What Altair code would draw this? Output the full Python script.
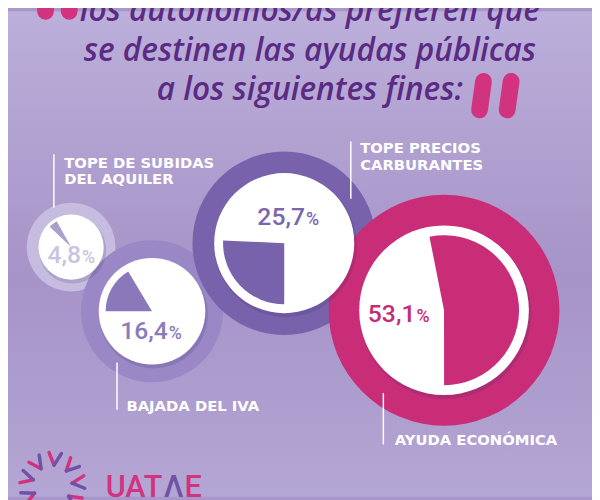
import math
import altair as alt
import pandas as pd

# ---------------- data ----------------
categories = ["TOPE DE SUBIDAS\nDEL AQUILER", "BAJADA DEL IVA",
              "TOPE PRECIOS\nCARBURANTES", "AYUDA ECONÓMICA"]
values = [4.8, 16.4, 25.7, 53.1]
value_text = ["4,8", "16,4", "25,7", "53,1"]
title_lines = ["los autónomos/as prefieren que",
               "se destinen las ayudas públicas",
               "a los siguientes fines:"]
brand_parts = ["UAT", "Λ", "E"]

# ---------------- layout (pixel frame of 600 x 500) ----------------
cx = [72, 154, 288, 450]
cy = [247, 312, 243, 311]
ring_r = [45, 72, 93, 117]
white_r = [33, 54, 71, 86]
wedge_r = [30, 47, 62, 76]
start_deg = [-46.5, -90, 180, -11.2]
ring_col = ["#c6bce0", "#9a88c6", "#7862ab", "#c92d78"]
wedge_col = ["#ab9fcc", "#8a78bb", "#7862ab", "#c92d78"]
num_col = ["#cbc3df", "#8b7bb9", "#7a66ab", "#c42c78"]
num_x = [82, 170, 309, 421]
num_y = [263, 340, 225, 323]
label_x = [65, 128, 365, 400]
label_y = [167, 413, 152, 448]
line_gap = 16.5
lead_x = [54.5, 118.5, 355.5, 388.5]
lead_y1 = [153, 364, 140, 395]
lead_y2 = [207, 412, 198, 447]

xs = alt.Scale(domain=[8, 600], nice=False, zero=False)
ys = alt.Scale(domain=[8, 500], nice=False, zero=False, reverse=True)

def X(f):
    return alt.X(f, type="quantitative", scale=xs, axis=None)

def Y(f):
    return alt.Y(f, type="quantitative", scale=ys, axis=None)

# ---------------- background ----------------
bg = alt.Chart(pd.DataFrame({"a": [0]})).mark_rect(
    fill=alt.LinearGradient(
        gradient="linear", x1=0, x2=0, y1=0, y2=1,
        stops=[alt.GradientStop(offset=0, color="#bcafda"),
               alt.GradientStop(offset=0.55, color="#a693c8"),
               alt.GradientStop(offset=1, color="#b4a6d4")])
).encode(x=alt.value(0), x2=alt.value(592), y=alt.value(0), y2=alt.value(492))

# ---------------- quotes ----------------
quotes = pd.DataFrame({
    "x": [47, 71, 490, 518], "y": [-30, -30, 79, 79],
    "x2": [46, 70, 486, 514], "y2": [8, 8, 108, 108]})
quote_layer = alt.Chart(quotes).mark_rule(
    color="#d2337e", strokeWidth=17, strokeCap="round"
).encode(x=X("x"), y=Y("y"), x2="x2", y2="y2")

# ---------------- title ----------------
title_df = pd.DataFrame({"t": title_lines, "x": [314] * 3, "y": [18, 58, 98]})
title_layer = alt.Chart(title_df).mark_text(
    font="Open Sans", fontStyle="italic", fontWeight=600, fontSize=32,
    color="#5b2b84", align="center", baseline="alphabetic"
).encode(x=X("x"), y=Y("y"), text="t:N")

# ---------------- circles ----------------
rad = math.pi / 180
circ = pd.DataFrame({
    "cat": categories, "v": values, "cx": cx, "cy": cy,
    "ring_r": ring_r, "white_r": white_r, "wedge_r": wedge_r,
    "s": [d * rad for d in start_deg],
    "ring_col": ring_col, "wedge_col": wedge_col,
})
full = circ.assign(z=0.0, full=2 * math.pi, sx=[c + 1.5 for c in cx],
                   sy=[c + 3 for c in cy], sr=[r + 1 for r in white_r])

rings = alt.Chart(full).mark_arc().encode(
    x=X("cx"), y=Y("cy"),
    theta=alt.Theta("z", type="quantitative", scale=None, stack=False),
    theta2=alt.Theta2("full"),
    radius=alt.Radius("ring_r", type="quantitative", scale=None),
    color=alt.Color("ring_col:N", scale=None),
)
shadows = alt.Chart(full).mark_arc(color="#3d2a6a", opacity=0.18).encode(
    x=X("sx"), y=Y("sy"),
    theta=alt.Theta("z", type="quantitative", scale=None, stack=False),
    theta2=alt.Theta2("full"),
    radius=alt.Radius("sr", type="quantitative", scale=None),
)
whites = alt.Chart(full).mark_arc(color="#ffffff").encode(
    x=X("cx"), y=Y("cy"),
    theta=alt.Theta("z", type="quantitative", scale=None, stack=False),
    theta2=alt.Theta2("full"),
    radius=alt.Radius("white_r", type="quantitative", scale=None),
)
wedges = alt.Chart(circ).transform_calculate(
    e="datum.s + datum.v / 100 * 2 * PI"
).mark_arc().encode(
    x=X("cx"), y=Y("cy"),
    theta=alt.Theta("s", type="quantitative", scale=None, stack=False),
    theta2=alt.Theta2("e:Q"),
    radius=alt.Radius("wedge_r", type="quantitative", scale=None),
    color=alt.Color("wedge_col:N", scale=None),
)

# ---------------- numbers ----------------
nums = pd.DataFrame({"t": value_text, "x": num_x, "y": num_y, "c": num_col,
                     "px": [v + 1 for v in num_x], "p": ["%"] * 4})
num_layer = alt.Chart(nums).mark_text(
    font="Roboto", fontWeight=500, fontSize=25, align="right", baseline="alphabetic"
).encode(x=X("x"), y=Y("y"), text="t:N", color=alt.Color("c:N", scale=None))
pct_layer = alt.Chart(nums).mark_text(
    font="Roboto", fontWeight=500, fontSize=18, align="left", baseline="alphabetic"
).encode(x=X("px"), y=Y("y"), text="p:N", color=alt.Color("c:N", scale=None))

# ---------------- labels and leaders ----------------
label_rows = []
for cat, lx, ly in zip(categories, label_x, label_y):
    for i, part in enumerate(cat.split("\n")):
        label_rows.append({"t": part, "x": lx, "y": ly + i * line_gap})
labels = pd.DataFrame(label_rows)
label_layer = alt.Chart(labels).mark_text(
    font="DejaVu Sans", fontWeight="bold", fontSize=15, color="#ffffff",
    align="left", baseline="alphabetic"
).encode(x=X("x"), y=Y("y"), text="t:N")
leads = pd.DataFrame({"x": lead_x, "y": lead_y1, "y2": lead_y2})
lead_layer = alt.Chart(leads).mark_rule(color="#ffffff", strokeWidth=1.5).encode(
    x=X("x"), y=Y("y"), y2="y2")

# ---------------- logo ----------------
lc_x, lc_y, r_in, r_out = 53, 488, 20, 33
rows = []
for k in range(9):
    a = (k * 40 + 5) * rad
    tx, ty = lc_x + r_in * math.sin(a), lc_y - r_in * math.cos(a)
    for j, d in enumerate([-11, 11]):
        b = a + d * rad
        rows.append({"x": tx, "y": ty,
                     "x2": lc_x + r_out * math.sin(b), "y2": lc_y - r_out * math.cos(b),
                     "c": "#d2337e" if j == 0 else "#6f52a6"})
logo = alt.Chart(pd.DataFrame(rows)).mark_rule(strokeWidth=3.5, strokeCap="round").encode(
    x=X("x"), y=Y("y"), x2="x2", y2="y2", color=alt.Color("c:N", scale=None))
brand = pd.DataFrame({"t": brand_parts, "x": [107, 166, 187], "y": [500] * 3,
                      "c": ["#d2337e", "#6f52a6", "#d2337e"]})
brand_layer = alt.Chart(brand).mark_text(
    font="Roboto", fontWeight=500, fontSize=31, align="left", baseline="alphabetic"
).encode(x=X("x"), y=Y("y"), text="t:N", color=alt.Color("c:N", scale=None))

chart = alt.layer(
    bg, quote_layer, title_layer, rings, shadows, whites, wedges, lead_layer,
    label_layer, num_layer, pct_layer, logo, brand_layer
).properties(
    width=592, height=492, padding=0,
    autosize=alt.AutoSizeParams(type="none"),
    background="#a897ca"
).configure_view(strokeWidth=0)

chart.save("out.html", embed_options={"renderer": "svg", "actions": False})
